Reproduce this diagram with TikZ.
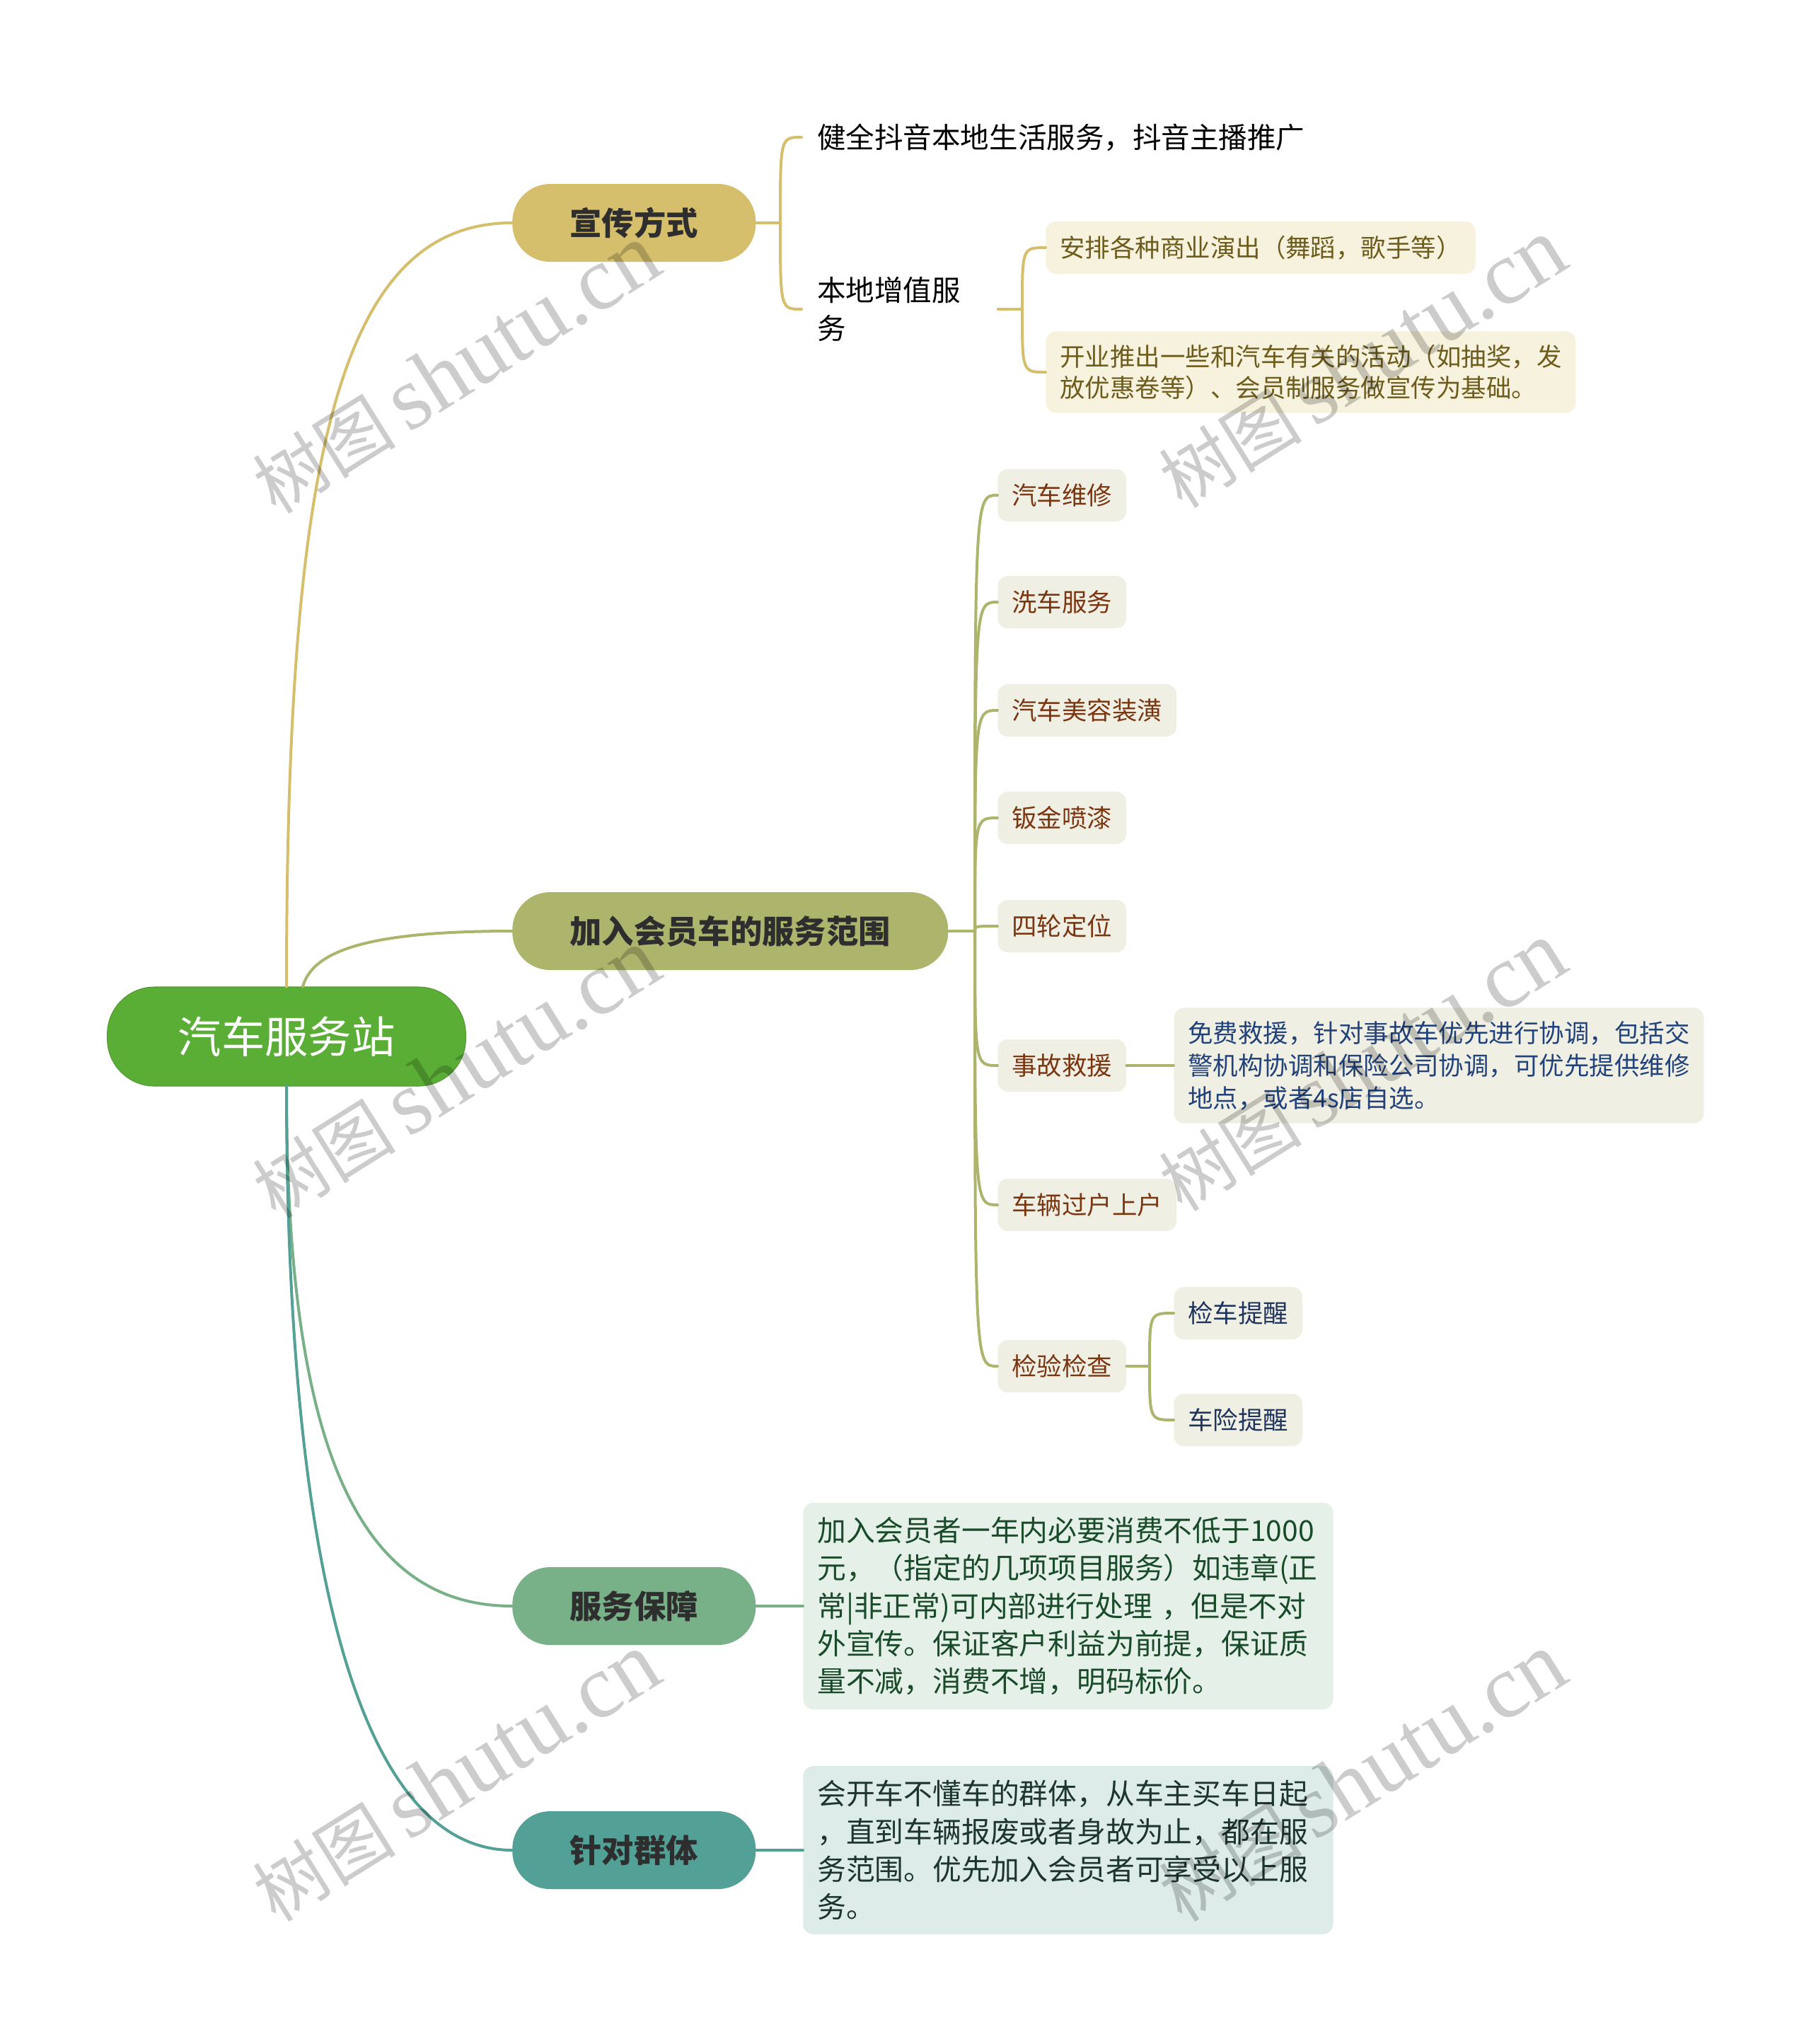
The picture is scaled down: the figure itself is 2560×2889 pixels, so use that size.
\documentclass[tikz,border=0pt]{standalone}
\usepackage{fontspec}
\setmainfont{Noto Sans CJK SC}
\newfontfamily\wmlatin{Liberation Serif}
\usetikzlibrary{positioning}

\definecolor{rootfill}{RGB}{90,174,53}
\definecolor{xcfill}{RGB}{213,190,108}
\definecolor{jrfill}{RGB}{173,180,108}
\definecolor{fbfill}{RGB}{120,176,136}
\definecolor{zdfill}{RGB}{82,160,150}
\definecolor{topictext}{RGB}{46,46,46}
\definecolor{creamfill}{RGB}{246,242,222}
\definecolor{creamtext}{RGB}{110,92,28}
\definecolor{leaffill}{RGB}{240,239,228}
\definecolor{leaftext}{RGB}{122,54,17}
\definecolor{bluetext}{RGB}{33,66,122}
\definecolor{navytext}{RGB}{30,52,92}
\definecolor{fbnotefill}{RGB}{229,240,232}
\definecolor{fbnotetext}{RGB}{25,75,42}
\definecolor{zdnotefill}{RGB}{221,236,233}
\definecolor{zdnotetext}{RGB}{30,52,46}

\begin{document}
\begin{tikzpicture}[x=0.75pt,y=0.75pt,yscale=-1,xscale=1,
    rootbox/.style={fill=rootfill,draw=rootfill!88!black,line width=0.8pt,rounded corners=50pt,minimum height=105pt,inner xsep=75pt,text=white,font=\fontsize{46pt}{54pt}\selectfont},
    topic/.style={fill=#1,rounded corners=40pt,minimum height=82.5pt,inner xsep=61pt,text=topictext,font=\fontsize{34pt}{40pt}\selectfont\bfseries,anchor=west},
    plain/.style={inner xsep=16.5pt,align=left,anchor=west,font=\fontsize{30.4pt}{40pt}\selectfont},
    leaf/.style={fill=leaffill,text=leaftext,rounded corners=11pt,minimum height=55.5pt,inner xsep=15pt,inner ysep=14pt,align=left,anchor=west,font=\fontsize{26.6pt}{34pt}\selectfont},
    note/.style={rounded corners=11pt,inner xsep=15pt,inner ysep=15pt,text width=532pt,align=left,anchor=west,font=\fontsize{30.6pt}{40pt}\selectfont},
    conn/.style={line width=3pt,line cap=round}]

    %uncomment if require: \path (0,2889); %set diagram left start at 0, and has height of 2889
    \path[use as bounding box] (0,0) rectangle (2560,2889);

    %Root
    \node[rootbox] (root) at (405,1465) {汽车服务站};

    %Main topics
    \node[topic=xcfill] (xc) at (724,315) {宣传方式};
    \node[topic=jrfill] (jr) at (724,1316) {加入会员车的服务范围};
    \node[topic=fbfill] (fb) at (724,2270) {服务保障};
    \node[topic=zdfill] (zd) at (724,2615) {针对群体};

    %Curves from the root
    \draw[conn,draw=xcfill] (root.north) .. controls (405,645) and (479,315) .. (xc.west);
    \draw[conn,draw=jrfill] (root.72) .. controls (442,1345) and (516,1316) .. (jr.west);
    \draw[conn,draw=fbfill] (root.south) .. controls (405,2027) and (498,2270) .. (fb.west);
    \draw[conn,draw=zdfill] (root.south) .. controls (405,2212) and (507,2615) .. (zd.west);

    %宣传方式
    \node[plain] (dy) at (1133,194) {健全抖音本地生活服务，抖音主播推广};
    \node[plain,text width=175pt] (bd) at (1133,437) {本地增值服\\务};
    \node[leaf,fill=creamfill,text=creamtext] (ap) at (1478,350) {安排各种商业演出（舞蹈，歌手等）};
    \node[leaf,fill=creamfill,text=creamtext,font=\fontsize{26.6pt}{33pt}\selectfont] (ky) at (1478,526) {开业推出一些和汽车有关的活动（如抽奖，发\\放优惠卷等）、会员制服务做宣传为基础。};

    \coordinate (xcj) at (1103,315);
    \coordinate (bdj) at (1445,437);
    \draw[conn,draw=xcfill] (xc.east) -- (xcj);
    \foreach \n in {dy,bd}
        \draw[conn,draw=xcfill] (xcj) .. controls (xcj |- \n.west) .. (\n.west);
    \draw[conn,draw=xcfill] (bd.east) -- (bdj);
    \foreach \n in {ap,ky}
        \draw[conn,draw=xcfill] (bdj) .. controls (bdj |- \n.west) .. (\n.west);

    %加入会员车的服务范围
    \node[leaf] (wx) at (1410,700) {汽车维修};
    \node[leaf] (xf) at (1410,851) {洗车服务};
    \node[leaf] (mr) at (1410,1004) {汽车美容装潢};
    \node[leaf] (bj) at (1410,1156) {钣金喷漆};
    \node[leaf] (sl) at (1410,1309) {四轮定位};
    \node[leaf] (sg) at (1410,1506) {事故救援};
    \node[leaf] (gh) at (1410,1703) {车辆过户上户};
    \node[leaf] (jy) at (1410,1931) {检验检查};

    \node[leaf,text=bluetext,font=\fontsize{26.6pt}{34.5pt}\selectfont] (sgd) at (1659,1506) {免费救援，针对事故车优先进行协调，包括交\\警机构协调和保险公司协调，可优先提供维修\\地点，或者4s店自选。};
    \node[leaf,text=navytext] (jc) at (1659,1856) {检车提醒};
    \node[leaf,text=navytext] (cx) at (1659,2007) {车险提醒};

    \coordinate (jrj) at (1378,1316);
    \coordinate (jyj) at (1625,1931);
    \draw[conn,draw=jrfill] (jr.east) -- (jrj);
    \foreach \n in {wx,xf,mr,bj,sl,sg,gh,jy}
        \draw[conn,draw=jrfill] (jrj) .. controls (jrj |- \n.west) .. (\n.west);
    \draw[conn,draw=jrfill] (sg.east) -- (sgd.west);
    \draw[conn,draw=jrfill] (jy.east) -- (jyj);
    \foreach \n in {jc,cx}
        \draw[conn,draw=jrfill] (jyj) .. controls (jyj |- \n.west) .. (\n.west);

    %服务保障 / 针对群体
    \node[note,fill=fbnotefill,text=fbnotetext] (fbd) at (1135,2270) {加入会员者一年内必要消费不低于1000\\元，（指定的几项项目服务）如违章(正\\常|非正常)可内部进行处理 ，但是不对\\外宣传。保证客户利益为前提，保证质\\量不减，消费不增，明码标价。};
    \node[note,fill=zdnotefill,text=zdnotetext] (zdd) at (1135,2615) {会开车不懂车的群体，从车主买车日起\\，直到车辆报废或者身故为止，都在服\\务范围。优先加入会员者可享受以上服\\务。};

    \draw[conn,draw=fbfill] (fb.east) -- (fbd.west);
    \draw[conn,draw=zdfill] (zd.east) -- (zdd.west);

    %Watermark
    \foreach \wx/\wy [count=\i] in {645/522,645/1518,645/2512,1926/514,1926/1508,1926/2512}
        \node[rotate=32,text=black,text opacity=0.2,inner sep=0pt] (wm\i) at (\wx,\wy)
            {\fontsize{76pt}{86pt}\selectfont 树图\,\wmlatin\fontsize{96pt}{106pt}\selectfont shutu.cn};

\end{tikzpicture}
\end{document}
